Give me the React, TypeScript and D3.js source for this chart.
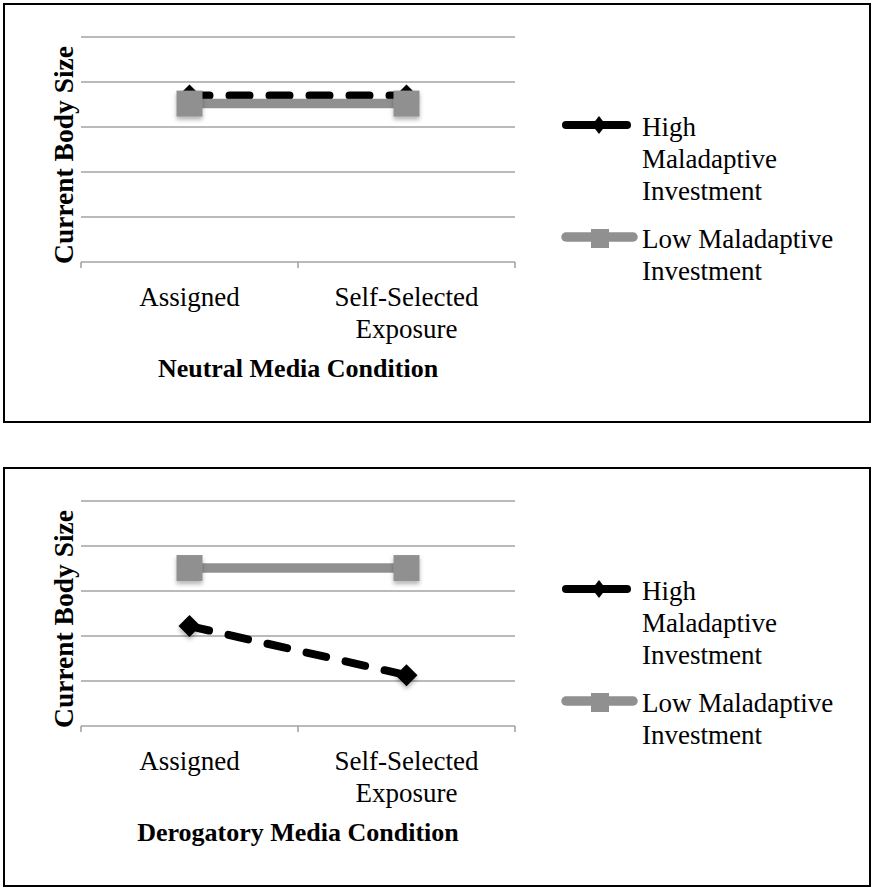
import React from "react";
import * as d3 from "d3";

const categories = ["Assigned", "Self-Selected Exposure"];
const categoryLabelLines = [["Assigned"], ["Self-Selected", "Exposure"]];
const yTicks = [0, 1, 2, 3, 4, 5];
const seriesNames = ["High Maladaptive Investment", "Low Maladaptive Investment"];
const legendLabelLines = [["High", "Maladaptive", "Investment"], ["Low Maladaptive", "Investment"]];
const panelTitles = ["Neutral Media Condition", "Derogatory Media Condition"];
const yAxisTitle = "Current Body Size";
const neutralHigh = [3.7, 3.7];
const neutralLow = [3.52, 3.52];
const derogatoryHigh = [2.22, 1.13];
const derogatoryLow = [3.51, 3.51];

const FONT = "'Liberation Serif', 'Times New Roman', serif";
const W = 872;
const H = 888;
const PANEL_OFFSET = 464;
const GRID = "#a3a3a3";
const BLACK = "#000";
const GRAY = "#909090";

type PanelProps = { dy: number; title: string; high: number[]; low: number[] };

function Panel({ dy, title, high, low }: PanelProps) {
  const x = d3.scalePoint<string>().domain(categories).range([81, 515]).padding(0.5);
  const band = d3.scaleBand<string>().domain(categories).range([81, 515]).padding(0);
  const y = d3.scaleLinear().domain([0, 5]).range([262, 37]);
  const tickXs = [...categories.map((c) => band(c) as number), 515];

  const lineGen = d3
    .line<number>()
    .x((_, i) => x(categories[i]) as number)
    .y((d) => y(d));

  const diamond = (cx: number, cy: number, rx: number, ry: number) =>
    `M${cx},${cy - ry}L${cx + rx},${cy}L${cx},${cy + ry}L${cx - rx},${cy}Z`;

  return (
    <g transform={`translate(0,${dy})`}>
      <rect x={4} y={4} width={866} height={418} fill="#fff" stroke="#000" strokeWidth={2} />
      {yTicks.slice(1).map((t) => (
        <line key={t} x1={81} x2={515} y1={y(t)} y2={y(t)} stroke={GRID} strokeWidth={1.6} />
      ))}
      <line x1={81} x2={515} y1={y(0)} y2={y(0)} stroke={GRID} strokeWidth={1.6} />
      {tickXs.map((tx, i) => (
        <line key={i} x1={tx} x2={tx} y1={y(0)} y2={y(0) + 6} stroke={GRID} strokeWidth={1.6} />
      ))}
      <text
        transform={`translate(73,155) rotate(-90)`}
        textAnchor="middle"
        fontFamily={FONT}
        fontWeight="bold"
        fontSize={27.5}
      >
        {yAxisTitle}
      </text>
      {categoryLabelLines.map((lines, i) => (
        <text key={i} textAnchor="middle" fontFamily={FONT} fontSize={27} fill="#000">
          {lines.map((ln, j) => (
            <tspan key={j} x={x(categories[i]) as number} y={306 + j * 32}>
              {ln}
            </tspan>
          ))}
        </text>
      ))}
      <text x={298} y={377} textAnchor="middle" fontFamily={FONT} fontWeight="bold" fontSize={26}>
        {title}
      </text>

      {/* High series: black dashed with diamonds */}
      <path
        d={lineGen(high) || ""}
        fill="none"
        stroke={BLACK}
        strokeWidth={8}
        strokeDasharray="20 20"
        strokeLinecap="round"
      />
      <g filter="url(#shadow)">
        {high.map((v, i) => (
          <path key={i} d={diamond(x(categories[i]) as number, y(v), 11, 11)} fill={BLACK} />
        ))}
      </g>

      {/* Low series: gray solid with squares */}
      <path d={lineGen(low) || ""} fill="none" stroke={GRAY} strokeWidth={9.5} />
      <g filter="url(#shadow)">
        {low.map((v, i) => (
          <rect
            key={i}
            x={(x(categories[i]) as number) - 13}
            y={y(v) - 13}
            width={26}
            height={26}
            fill={GRAY}
          />
        ))}
      </g>

      {/* Legend */}
      <line x1={566} x2={627} y1={125} y2={125} stroke={BLACK} strokeWidth={8} strokeLinecap="round" />
      <path d={diamond(599, 125, 7, 9)} fill={BLACK} />
      <text fontFamily={FONT} fontSize={27} fill="#000">
        {legendLabelLines[0].map((ln, j) => (
          <tspan key={j} x={642} y={136 + j * 32}>
            {ln}
          </tspan>
        ))}
      </text>
      <line x1={566} x2={633} y1={237} y2={237} stroke={GRAY} strokeWidth={9.5} strokeLinecap="round" />
      <rect x={591} y={229} width={18} height={19} fill={GRAY} />
      <text fontFamily={FONT} fontSize={27} fill="#000">
        {legendLabelLines[1].map((ln, j) => (
          <tspan key={j} x={642} y={248 + j * 32}>
            {ln}
          </tspan>
        ))}
      </text>
      <title>{seriesNames.join(", ")}</title>
    </g>
  );
}

export default function App() {
  return (
    <div style={{ position: "absolute", left: 0, top: 0 }}>
      <svg width={W} height={H} viewBox={`0 0 ${W} ${H}`} style={{ display: "block", background: "#fff" }}>
        <defs>
          <filter id="shadow" x="-50%" y="-50%" width="200%" height="200%">
            <feDropShadow dx={0} dy={3} stdDeviation={2} floodColor="#000" floodOpacity={0.3} />
          </filter>
        </defs>
        <rect x={0} y={0} width={W} height={H} fill="#fff" />
        <Panel dy={0} title={panelTitles[0]} high={neutralHigh} low={neutralLow} />
        <Panel dy={PANEL_OFFSET} title={panelTitles[1]} high={derogatoryHigh} low={derogatoryLow} />
      </svg>
    </div>
  );
}
